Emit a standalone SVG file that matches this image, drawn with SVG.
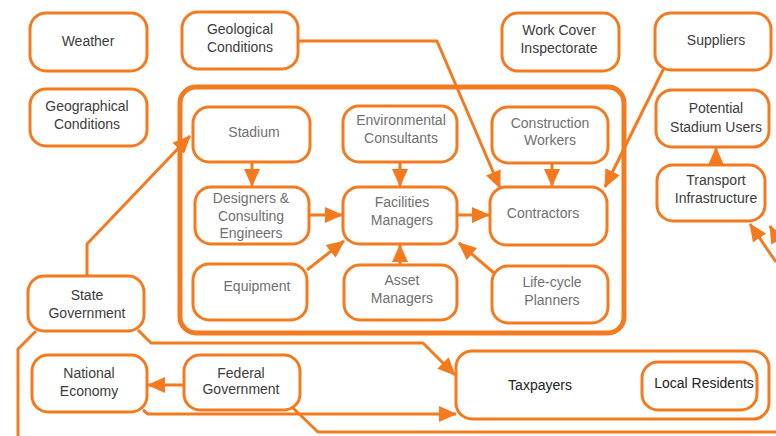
<svg xmlns="http://www.w3.org/2000/svg" width="776" height="436" viewBox="0 0 776 436">
  <style>
    .box { fill: #ffffff; stroke: #f47a20; stroke-width: 3; }
    .frame { fill: none; stroke: #f47a20; stroke-width: 5; }
    .link { fill: none; stroke: #f47a20; stroke-width: 3; stroke-linejoin: round; }
    text { font-family: "Liberation Sans", Arial, sans-serif; font-size: 14px; text-anchor: middle; }
    .outer { fill: #3c3c3c; }
    .inner { fill: #707070; }
    .dark { fill: #222222; }
  </style>
  <defs>
    <marker id="head" markerUnits="userSpaceOnUse" markerWidth="18" markerHeight="16" refX="17" refY="8" orient="auto">
      <path d="M0,0 L18,8 L0,16 z" fill="#f47a20"/>
    </marker>
  </defs>

  <rect width="776" height="436" fill="#ffffff"/>

  <!-- project boundary around the stadium delivery team -->
  <rect class="frame" x="180" y="87" width="444" height="246" rx="16"/>

  <g id="connectors">
    <path class="link" d="M87,276 L87,244 L190,136" marker-end="url(#head)"/>
    <path class="link" d="M298,41 L437,41 L500,188" marker-end="url(#head)"/>
    <path class="link" d="M664,68 L605,187" marker-end="url(#head)"/>
    <path class="link" d="M252,162 L252,186" marker-end="url(#head)"/>
    <path class="link" d="M400,162 L400,186" marker-end="url(#head)"/>
    <path class="link" d="M552,163 L552,186" marker-end="url(#head)"/>
    <path class="link" d="M309,215 L342,215" marker-end="url(#head)"/>
    <path class="link" d="M307,270 L344,241" marker-end="url(#head)"/>
    <path class="link" d="M400,265 L400,245" marker-end="url(#head)"/>
    <path class="link" d="M457,215 L489,215" marker-end="url(#head)"/>
    <path class="link" d="M494,273 L459,243" marker-end="url(#head)"/>
    <path class="link" d="M716,164 L716,148" marker-end="url(#head)"/>
    <path class="link" d="M776,262 L750,224" marker-end="url(#head)"/>
    <path class="link" d="M790,262 L770,226" marker-end="url(#head)"/>
    <path class="link" d="M138,330 L151,343 L423,343 L455,375" marker-end="url(#head)"/>
    <path class="link" d="M36,331 L18,349 L18,436"/>
    <path class="link" d="M184,385 L148,385" marker-end="url(#head)"/>
    <path class="link" d="M143,410 L148,414 L456,414" marker-end="url(#head)"/>
    <path class="link" d="M293,408 L318,432 L776,432"/>
  </g>

  <g id="weather">
    <rect class="box" x="30" y="13" width="117" height="58" rx="16"/>
    <text class="outer" x="88" y="46">Weather</text>
  </g>
  <g id="geological-conditions">
    <rect class="box" x="182" y="12" width="116" height="57" rx="16"/>
    <text class="outer" x="240" y="34">Geological</text>
    <text class="outer" x="240" y="52">Conditions</text>
  </g>
  <g id="geographical-conditions">
    <rect class="box" x="30" y="89" width="117" height="57" rx="16"/>
    <text class="outer" x="87" y="111">Geographical</text>
    <text class="outer" x="87" y="129">Conditions</text>
  </g>
  <g id="work-cover-inspectorate">
    <rect class="box" x="502" y="13" width="117" height="58" rx="16"/>
    <text class="outer" x="559" y="35">Work Cover</text>
    <text class="outer" x="559" y="53">Inspectorate</text>
  </g>
  <g id="suppliers">
    <rect class="box" x="655" y="13" width="116" height="57" rx="16"/>
    <text class="outer" x="716" y="45">Suppliers</text>
  </g>
  <g id="potential-stadium-users">
    <rect class="box" x="656" y="90" width="113" height="57" rx="16"/>
    <text class="outer" x="716" y="113">Potential</text>
    <text class="outer" x="716" y="132">Stadium Users</text>
  </g>
  <g id="transport-infrastructure">
    <rect class="box" x="657" y="165" width="108" height="56" rx="16"/>
    <text class="outer" x="716" y="185">Transport</text>
    <text class="outer" x="716" y="203">Infrastructure</text>
  </g>

  <g id="stadium">
    <rect class="box" x="193" y="107" width="117" height="55" rx="16"/>
    <text class="inner" x="254" y="137">Stadium</text>
  </g>
  <g id="environmental-consultants">
    <rect class="box" x="343" y="106" width="114" height="56" rx="16"/>
    <text class="inner" x="401" y="125">Environmental</text>
    <text class="inner" x="401" y="143">Consultants</text>
  </g>
  <g id="construction-workers">
    <rect class="box" x="492" y="107" width="116" height="56" rx="16"/>
    <text class="inner" x="550" y="128">Construction</text>
    <text class="inner" x="550" y="145">Workers</text>
  </g>
  <g id="designers-engineers">
    <rect class="box" x="195" y="187" width="114" height="57" rx="16"/>
    <text class="inner" x="251" y="203">Designers &amp;</text>
    <text class="inner" x="251" y="221">Consulting</text>
    <text class="inner" x="251" y="238">Engineers</text>
  </g>
  <g id="facilities-managers">
    <rect class="box" x="343" y="187" width="114" height="57" rx="16"/>
    <text class="inner" x="402" y="207">Facilities</text>
    <text class="inner" x="402" y="225">Managers</text>
  </g>
  <g id="contractors">
    <rect class="box" x="490" y="187" width="117" height="58" rx="16"/>
    <text class="inner" x="543" y="218">Contractors</text>
  </g>
  <g id="equipment">
    <rect class="box" x="193" y="264" width="114" height="56" rx="16"/>
    <text class="inner" x="257" y="291">Equipment</text>
  </g>
  <g id="asset-managers">
    <rect class="box" x="344" y="265" width="113" height="55" rx="16"/>
    <text class="inner" x="402" y="285">Asset</text>
    <text class="inner" x="402" y="303">Managers</text>
  </g>
  <g id="life-cycle-planners">
    <rect class="box" x="492" y="266" width="116" height="57" rx="16"/>
    <text class="inner" x="552" y="287">Life-cycle</text>
    <text class="inner" x="552" y="305">Planners</text>
  </g>

  <g id="state-government">
    <rect class="box" x="28" y="276" width="116" height="55" rx="16"/>
    <text class="outer" x="87" y="300">State</text>
    <text class="outer" x="87" y="318">Government</text>
  </g>
  <g id="national-economy">
    <rect class="box" x="32" y="355" width="115" height="57" rx="16"/>
    <text class="outer" x="89" y="378">National</text>
    <text class="outer" x="89" y="396">Economy</text>
  </g>
  <g id="federal-government">
    <rect class="box" x="184" y="355" width="116" height="55" rx="16"/>
    <text class="outer" x="241" y="378">Federal</text>
    <text class="outer" x="241" y="394">Government</text>
  </g>
  <g id="taxpayers">
    <rect class="box" x="456" y="351" width="313" height="68" rx="16"/>
    <text class="dark" x="540" y="390">Taxpayers</text>
  </g>
  <g id="local-residents">
    <rect class="box" x="642" y="362" width="115" height="48" rx="16"/>
    <text class="dark" x="704" y="388">Local Residents</text>
  </g>
</svg>
